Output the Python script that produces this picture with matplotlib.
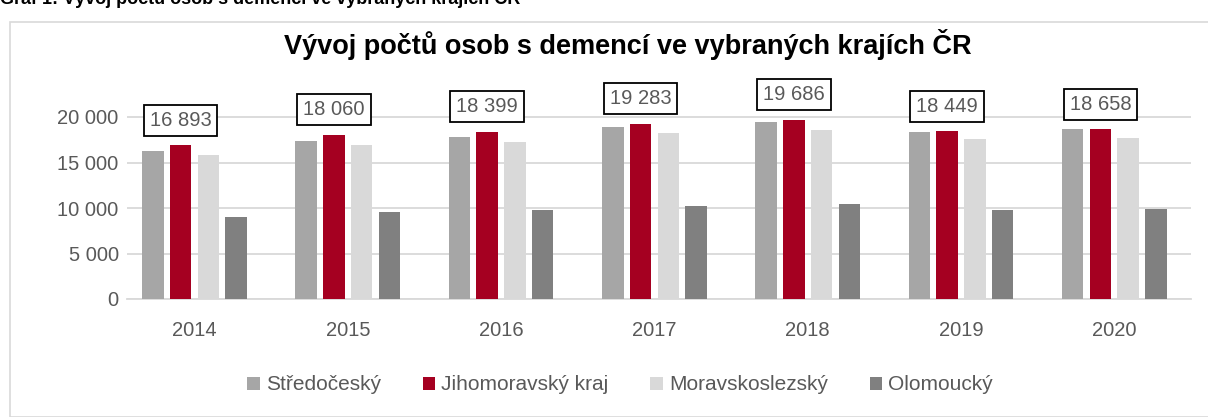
import matplotlib.pyplot as plt
from matplotlib.patches import Rectangle
import numpy as np

# ===== data =====
years = ["2014", "2015", "2016", "2017", "2018", "2019", "2020"]
stredocesky = [16250, 17400, 17800, 18950, 19500, 18400, 18700]
jihomoravsky = [16893, 18060, 18399, 19283, 19686, 18449, 18658]
moravskoslezsky = [15800, 16900, 17250, 18200, 18550, 17550, 17700]
olomoucky = [9000, 9550, 9780, 10200, 10450, 9780, 9920]
series_names = ["Středočeský", "Jihomoravský kraj", "Moravskoslezský", "Olomoucký"]
y_ticks = [0, 5000, 10000, 15000, 20000]

colors = ["#A6A6A6", "#A50021", "#D9D9D9", "#808080"]
text_col = "#595959"

plt.rcParams["font.family"] = ["Liberation Sans Narrow", "Liberation Sans", "DejaVu Sans"]

fig = plt.figure(figsize=(12.08, 4.17), dpi=100)
ax = fig.add_axes([127 / 1208, (417 - 299) / 417, (1191 - 127) / 1208, (299 - 98.8) / 417])

# frame around the chart
fig.patches.append(Rectangle((10 / 1208, 0.0), 1.2, (417 - 22) / 417, transform=fig.transFigure,
                             fill=False, edgecolor="#D9D9D9", lw=1.2))

x = np.arange(len(years))
pitch = 0.181
width = 0.14
all_series = [stredocesky, jihomoravsky, moravskoslezsky, olomoucky]
for i, (vals, name, c) in enumerate(zip(all_series, series_names, colors)):
    ax.bar(x + (i - 1.5) * pitch, vals, width, color=c, label=name, zorder=3)

# labelled boxes above the Jihomoravsky bars
for xi, v in zip(x, jihomoravsky):
    ax.annotate(f"{v:,}".replace(",", " "), (xi - 0.5 * pitch, v), xytext=(0, 18),
                textcoords="offset points", ha="center", va="center", fontsize=14.5,
                color=text_col,
                bbox=dict(boxstyle="square,pad=0.3", fc="white", ec="black", lw=1.3),
                zorder=5)

ax.set_xlim(-0.44, 6.5)
ax.set_ylim(0, 22000)
ax.set_yticks(y_ticks)
ax.set_yticklabels([f"{t:,}".replace(",", " ") for t in y_ticks])
ax.set_xticks(x)
ax.set_xticklabels(years)
ax.tick_params(axis="both", length=0, labelsize=14.5, labelcolor=text_col)
ax.tick_params(axis="x", pad=16)
ax.tick_params(axis="y", pad=6)
ax.grid(axis="y", color="#D9D9D9", lw=1.3, zorder=0)
for s in ["top", "right", "left"]:
    ax.spines[s].set_visible(False)
ax.spines["bottom"].set_color("#D9D9D9")
ax.spines["bottom"].set_linewidth(1.3)

fig.text(0.52, 1 - 45 / 417, "Vývoj počtů osob s demencí ve vybraných krajích ČR",
         ha="center", va="center", fontsize=19.5, fontweight="bold", color="black")
fig.text(0.0, 1 - 4 / 417, "Graf 1: Vývoj počtu osob s demencí ve vybraných krajích ČR",
         ha="left", va="baseline", fontsize=13, fontweight="bold", color="black")

ax.legend(loc="center", bbox_to_anchor=(620 / 1208, 1 - 385 / 417), bbox_transform=fig.transFigure,
          ncol=4, frameon=False, fontsize=15, labelcolor=text_col, handlelength=0.6,
          handleheight=0.6, handletextpad=0.3, columnspacing=2.0)

fig.savefig("out.png", dpi=100)
